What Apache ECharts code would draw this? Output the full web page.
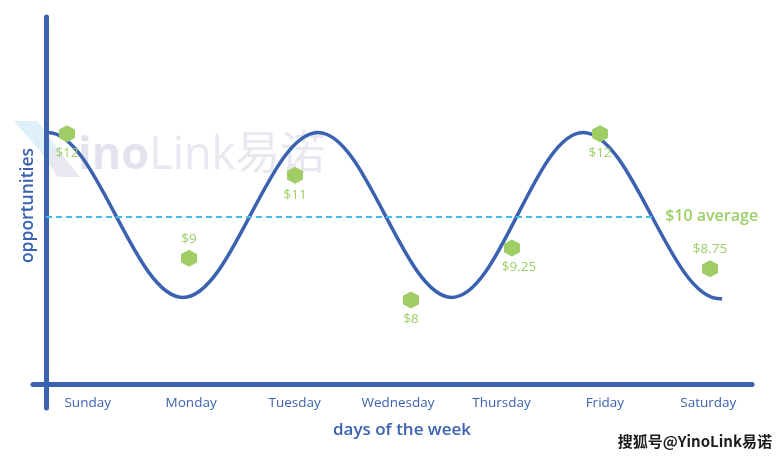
<!DOCTYPE html>
<html>
<head>
<meta charset="utf-8">
<script src="https://cdn.jsdelivr.net/npm/echarts@6/dist/echarts.min.js"></script>
<style>html,body{margin:0;padding:0;background:#fff}#c{width:784px;height:459px}</style>
</head>
<body>
<div id="c"></div>
<script>
// ---- data ----
const days = ['Sunday', 'Monday', 'Tuesday', 'Wednesday', 'Thursday', 'Friday', 'Saturday'];
// opportunity values ($) and where each sits along the week (in days from the y axis)
const priceX = [0.208, 1.418, 2.469, 3.619, 4.620, 5.493, 6.584];
const priceY = [12, 9, 11, 8, 9.25, 12, 8.75];
// the wave: its flat start, peaks / troughs, flat end
const waveX = [0, 0.02, 1.358, 2.697, 4.026, 5.325, 6.68, 6.703];
const waveY = [12.03, 12.03, 8.06, 12.03, 8.06, 12.03, 8.03, 8.03];
const average = 10;
const averageEndX = 6.05;

// ---- styling ----
const labelSide = ['bottom', 'top', 'bottom', 'bottom', 'bottom', 'bottom', 'top'];
const labelShift = [0, 0, 0, 0, 7, 0, 0];
const blue = '#3b62b0';
const green = '#a0cd66';
const labelGreen = '#9dcf68';
const cyan = '#3fbfe8';
const font = '"Open Sans", "Noto Sans", sans-serif';
const hex = 'path://M0,-1 L0.866,-0.5 L0.866,0.5 L0,1 L-0.866,0.5 L-0.866,-0.5 Z';

const chart = echarts.init(document.getElementById('c'), null, {renderer: 'canvas'});
const option = {
  animation: false,
  backgroundColor: '#ffffff',
  graphic: [
    {type: 'polygon', z: 0, shape: {points: [[14, 121], [37, 121], [58, 149], [40, 151]]},
     style: {fill: 'rgba(150,205,240,0.30)'}},
    {type: 'polygon', z: 0, shape: {points: [[40, 151], [58, 149], [80, 177], [58, 177]]},
     style: {fill: 'rgba(200,200,222,0.40)'}},
    {type: 'text', z: 0, x: 78, y: 156,
     style: {
       text: '{b|ino}{r|Link易诺}',
       verticalAlign: 'middle',
       rich: {
         b: {fontSize: 45, fontWeight: 'bold', fontFamily: '"Open Sans", sans-serif', fill: 'rgba(200,200,222,0.50)'},
         r: {fontSize: 45, fontWeight: 'normal', fontFamily: '"Open Sans", "Noto Sans CJK SC", sans-serif', fill: 'rgba(200,200,222,0.42)'}
       }
     }},
    {type: 'text', z: 100, x: 772, y: 441,
     style: {text: '搜狐号@YinoLink易诺', align: 'right', verticalAlign: 'middle',
             fontSize: 15, fontWeight: 'bold', fontFamily: '"Noto Sans CJK SC", sans-serif',
             fill: '#1c1c1c', stroke: '#ffffff', lineWidth: 2}}
  ],
  grid: [
    {left: 46, right: 32, top: 9, bottom: 76},
    {left: 46, right: 32, top: 17, bottom: 51},
    {left: 33, right: 32, top: 9, bottom: 75},
    {left: 36, right: 24, top: 9, bottom: 75}
  ],
  xAxis: [
    {gridIndex: 0, type: 'value', min: 0, max: 7, show: false},
    {gridIndex: 1, type: 'value', show: false},
    {gridIndex: 2, type: 'value', min: 0, max: 1,
     axisLine: {show: true, onZero: false, lineStyle: {color: blue, width: 5}},
     axisTick: {show: false}, axisLabel: {show: false}, splitLine: {show: false}},
    {gridIndex: 3, type: 'category', data: days, boundaryGap: true,
     axisLine: {show: false}, axisTick: {show: false}, splitLine: {show: false},
     axisLabel: {margin: 12, color: blue, fontSize: 13.5, fontFamily: font},
     name: 'days of the week', nameLocation: 'middle', nameGap: 38,
     nameTextStyle: {color: blue, fontSize: 17, fontWeight: 600, fontFamily: font, padding: [0, 0, 0, 8]}}
  ],
  yAxis: [
    {gridIndex: 0, type: 'value', min: 6, max: 15, show: false},
    {gridIndex: 1, type: 'value', min: 0, max: 1,
     axisLine: {show: true, onZero: false, lineStyle: {color: blue, width: 5}},
     axisTick: {show: false}, axisLabel: {show: false}, splitLine: {show: false},
     name: 'opportunities', nameLocation: 'middle', nameGap: 9, nameRotate: 90,
     nameTextStyle: {color: blue, fontSize: 17.5, fontWeight: 600, fontFamily: font, padding: [0, 0, 0, 14]}},
    {gridIndex: 2, type: 'value', show: false},
    {gridIndex: 3, type: 'value', show: false}
  ],
  series: [
    {
      name: 'wave', type: 'line', xAxisIndex: 0, yAxisIndex: 0,
      data: waveX.map((x, i) => [x, waveY[i]]),
      smooth: 0.36, smoothMonotone: 'x', symbol: 'none', showSymbol: false,
      lineStyle: {color: blue, width: 3.5}, z: 3,
      markLine: {
        silent: true, symbol: ['none', 'none'],
        lineStyle: {color: cyan, width: 2, type: [6, 4]},
        label: {show: true, position: 'end', distance: 9, formatter: '$' + average + ' average',
                color: labelGreen, fontSize: 16, fontWeight: 600, fontFamily: font},
        data: [[{coord: [0, average]}, {coord: [averageEndX, average]}]]
      }
    },
    {
      name: 'price', type: 'scatter', xAxisIndex: 0, yAxisIndex: 0,
      data: priceX.map((x, i) => ({
        value: [x, priceY[i]],
        label: {position: labelSide[i], offset: [labelShift[i], 0]}
      })),
      symbol: hex, symbolSize: [16, 17],
      itemStyle: {color: green, opacity: 1},
      label: {show: true, formatter: p => '$' + p.value[1], color: labelGreen,
              fontSize: 13.5, fontFamily: font, distance: 4},
      z: 4
    }
  ]
};
chart.setOption(option);
</script>
</body>
</html>
